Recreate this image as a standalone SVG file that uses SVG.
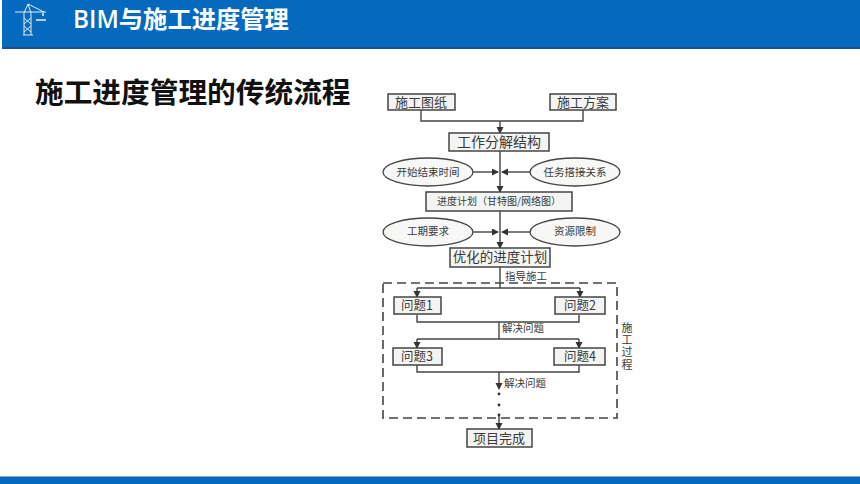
<svg xmlns="http://www.w3.org/2000/svg" width="860" height="484" viewBox="0 0 860 484">
<defs>
<style>
.s{font-family:"Noto Sans CJK SC",sans-serif;fill:#3a3a3a;text-anchor:middle}
.b{fill:#f4f4f2;stroke:#444;stroke-width:1.5}
.e{fill:#f7f7f5;stroke:#444;stroke-width:1.3}
.c{fill:none;stroke:#444;stroke-width:1.4}
</style>
<marker id="a" markerWidth="8" markerHeight="8" refX="6" refY="3.5" orient="auto" markerUnits="userSpaceOnUse"><path d="M0 0L7 3.5L0 7Z" fill="#333"/></marker>
</defs>
<rect width="860" height="484" fill="#fff"/>
<g id="header">
<rect x="2" y="0" width="858" height="48" fill="#0569bd"/>
<rect x="2" y="47" width="858" height="2" fill="#1f4f86"/>
<g stroke="#e8eef0" stroke-width="1" fill="none">
<path d="M15 12H46M24 35V13M31 35V13M24 13L28 4L31 13M28 4L44 12M23 35H33M24 18L31 24M31 18L24 24M24 26L31 32M31 26L24 32"/>
<path d="M36 20H46M43 13V16" stroke-width="1.5"/>
</g>
<text x="73" y="28" font-family="'Open Sans','Noto Sans CJK SC',sans-serif" font-size="24.3" font-weight="600" fill="#fff">BIM与施工进度管理</text>
</g>
<text id="title" x="35" y="103" font-family="'Noto Sans CJK SC',sans-serif" font-size="28.7" font-weight="700" fill="#111">施工进度管理的传统流程</text>
<g id="connectors">
<path class="c" d="M421 110V121H583V110"/>
<path class="c" d="M500 121V133" marker-end="url(#a)"/>
<path class="c" d="M500 151V192" marker-end="url(#a)"/>
<path class="c" d="M473 172H498" marker-end="url(#a)"/>
<path class="c" d="M531 172H502" marker-end="url(#a)"/>
<path class="c" d="M500 211V248" marker-end="url(#a)"/>
<path class="c" d="M473 232H498" marker-end="url(#a)"/>
<path class="c" d="M531 232H502" marker-end="url(#a)"/>
<path class="c" d="M500 267V288"/>
<path class="c" d="M417 288H580"/>
<path class="c" d="M417 288V297" marker-end="url(#a)"/>
<path class="c" d="M580 288V297" marker-end="url(#a)"/>
<path class="c" d="M417 315V322H579V315"/>
<path class="c" d="M499 322V339"/>
<path class="c" d="M417 339H579"/>
<path class="c" d="M417 339V348" marker-end="url(#a)"/>
<path class="c" d="M579 339V348" marker-end="url(#a)"/>
<path class="c" d="M417 365V372H579V365"/>
<path class="c" d="M499 372V389" marker-end="url(#a)"/>
<path class="c" d="M499 416V429" marker-end="url(#a)"/>
</g>
<g id="dots" fill="#333"><circle cx="499" cy="394" r="1.4"/><circle cx="499" cy="405" r="1.4"/><circle cx="499" cy="415" r="1.4"/></g>
<rect id="process" x="383" y="283" width="234" height="135" fill="none" stroke="#444" stroke-width="1.6" stroke-dasharray="9 5"/>
<g id="n1"><rect class="b" x="388" y="94" width="67" height="16"/><text class="s" x="421" y="107" font-size="13">施工图纸</text></g>
<g id="n2"><rect class="b" x="550" y="94" width="66" height="16"/><text class="s" x="583" y="107" font-size="13">施工方案</text></g>
<g id="n3"><rect class="b" x="449" y="133" width="100" height="18"/><text class="s" x="499" y="147" font-size="14">工作分解结构</text></g>
<g id="n4"><ellipse class="e" cx="428" cy="172" rx="45" ry="14"/><text class="s" x="428" y="176" font-size="10.5">开始结束时间</text></g>
<g id="n5"><ellipse class="e" cx="575" cy="172" rx="45" ry="14"/><text class="s" x="575" y="176" font-size="10.5">任务搭接关系</text></g>
<g id="n6"><rect class="b" x="426" y="192" width="146" height="19"/><text class="s" x="499" y="205" font-size="10">进度计划（甘特图/网络图）</text></g>
<g id="n7"><ellipse class="e" cx="428" cy="232" rx="45" ry="14"/><text class="s" x="428" y="235" font-size="10.5">工期要求</text></g>
<g id="n8"><ellipse class="e" cx="575" cy="232" rx="45" ry="14"/><text class="s" x="575" y="235" font-size="10.5">资源限制</text></g>
<g id="n9"><rect class="b" x="450" y="248" width="100" height="19"/><text class="s" x="500" y="262" font-size="13.5">优化的进度计划</text></g>
<text class="s" x="526" y="280" font-size="10.5">指导施工</text>
<g id="n10"><rect class="b" x="394" y="297" width="47" height="17"/><text class="s" x="417" y="310" font-size="12.5">问题1</text></g>
<g id="n11"><rect class="b" x="555" y="297" width="50" height="17"/><text class="s" x="580" y="310" font-size="12.5">问题2</text></g>
<text class="s" x="523" y="332" font-size="10.5">解决问题</text>
<g id="n12"><rect class="b" x="393" y="348" width="49" height="17"/><text class="s" x="417" y="361" font-size="12.5">问题3</text></g>
<g id="n13"><rect class="b" x="554" y="348" width="51" height="17"/><text class="s" x="580" y="361" font-size="12.5">问题4</text></g>
<text class="s" x="525" y="387" font-size="10.5">解决问题</text>
<g id="n14"><rect class="b" x="467" y="429" width="65" height="18"/><text class="s" x="499" y="443" font-size="13">项目完成</text></g>
<text id="side" x="627" y="322" font-family="'Noto Sans CJK SC',sans-serif" fill="#3a3a3a" font-size="11" letter-spacing="1.3" style="writing-mode:vertical-rl">施工过程</text>
<g id="footer"><rect x="0" y="476" width="860" height="8" fill="#0569bd"/><rect x="0" y="476" width="860" height="1" fill="#7fb2de"/></g>
</svg>
